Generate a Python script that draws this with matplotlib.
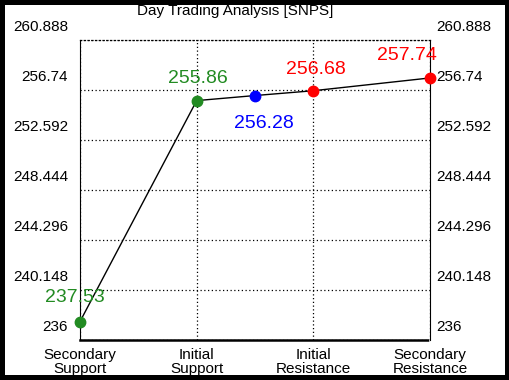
import matplotlib
matplotlib.use("Agg")
import matplotlib.pyplot as plt
import matplotlib.transforms as mtransforms

plt.rcParams['font.family'] = ['Liberation Sans', 'DejaVu Sans']

categories = ["Secondary\nSupport", "Initial\nSupport", "Initial\nResistance", "Secondary\nResistance"]
xs = [0, 1, 1.5, 2, 3]
values = [237.53, 255.86, 256.28, 256.68, 257.74]
colors = ["#228B22", "#228B22", "#0000FF", "#FF0000", "#FF0000"]
label_offsets = [(-5, 24), (1, 22), (9, -28), (3, 21), (-23, 22)]  # pixels
yticks = [236, 240.148, 244.296, 248.444, 252.592, 256.74, 260.888]
ytick_labels = ["236", "240.148", "244.296", "248.444", "252.592", "256.74", "260.888"]

fig = plt.figure(figsize=(5.1, 3.8), dpi=100)
fig.patch.set_edgecolor("black")
fig.patch.set_linewidth(6)
ax = fig.add_axes([80/510, 40/380, 350/510, 300/380])

ax.plot(xs, values, color="black", linewidth=1, zorder=2, clip_on=False)
for x, v, c, off in zip(xs, values, colors, label_offsets):
    ax.plot(x, v, "o", color=c, markersize=7.5, zorder=3, clip_on=False)
    ax.annotate(f"{v:.2f}", (x, v), xytext=(off[0]*0.72, off[1]*0.72),
                textcoords="offset points", ha="center", va="center",
                color=c, fontsize=14)

ax.set_xlim(0, 3)
ax.set_ylim(236, 260.888)
ax.set_xticks(range(len(categories)))
ax.set_xticklabels(categories, fontsize=11, linespacing=1.0)
ax.set_yticks(yticks)
ax.set_yticklabels([])
ax.tick_params(axis="y", length=0)
ax.tick_params(axis="x", length=0, pad=6)

# y labels sit above their grid lines, on both sides
trans = mtransforms.blended_transform_factory(ax.transAxes, ax.transData)
up = mtransforms.ScaledTranslation(0, 13/100, fig.dpi_scale_trans)
for y, lab in zip(yticks, ytick_labels):
    ax.text(-12/350, y, lab, transform=trans + up, ha="right", va="center", fontsize=11)
    ax.text(1 + 6/350, y, lab, transform=trans + up, ha="left", va="center", fontsize=11)

ax.grid(True, color="black", linestyle=(0, (1, 2)), linewidth=0.9)
ax.spines["left"].set_color("black")
ax.spines["right"].set_color("black")
ax.spines["top"].set_linestyle((0, (1, 2)))
ax.spines["top"].set_linewidth(0.9)
ax.spines["bottom"].set_linestyle((0, (1, 1)))
ax.spines["bottom"].set_linewidth(1.8)

fig.text(235/510, 1 - 11/380, "Day Trading Analysis [SNPS]", ha="center", va="center", fontsize=11)

fig.savefig("out.png", dpi=100, edgecolor=fig.get_edgecolor())
